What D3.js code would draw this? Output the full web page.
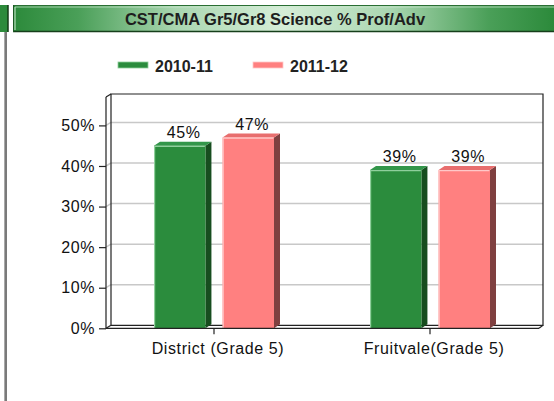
<!DOCTYPE html>
<meta charset="utf-8">
<style>
body { margin: 0; background: #fff; }
svg { display: block; }
.lbl { font: 16px "Liberation Sans", Arial, sans-serif; letter-spacing: 0.6px; fill: #111; }
.leg { font: bold 16px "Liberation Sans", Arial, sans-serif; fill: #222; }
.title { font: bold 16.5px "Liberation Sans", Arial, sans-serif; fill: #1e1e1e; }
.frame { fill: none; stroke: #222; stroke-width: 1.2px; }
.grid { fill: none; stroke: #c8c8c8; stroke-width: 1.5px; }
</style>
<body>
<div id="chart"></div>
<script src="https://cdn.jsdelivr.net/npm/d3@7"></script>
<script>
var categories = ["District (Grade 5)", "Fruitvale(Grade 5)"];
var seriesNames = ["2010-11", "2011-12"];
var values2010 = [45, 39];
var values2011 = [47, 39];
var yTicks = [0, 10, 20, 30, 40, 50];
var titleText = "CST/CMA Gr5/Gr8 Science % Prof/Adv";

var front = {"2010-11": "#2b8c3d", "2011-12": "#ff8080"},
    side = {"2010-11": "#174d1f", "2011-12": "#7f4040"},
    topc = {"2010-11": "#33964a", "2011-12": "#e86e6e"},
    shine = {"2010-11": "#8fcf9c", "2011-12": "#ffc8c8"};

var W = 554, H = 401;
var svg = d3.select("#chart").append("svg").attr("width", W).attr("height", H);

// header strip
var defs = svg.append("defs");
var grad = defs.append("linearGradient").attr("id", "tg");
[[0, "#2c8a3b"], [0.12, "#4a9f58"], [0.3, "#a9d6b0"], [0.5, "#d6eed8"], [0.7, "#a9d6b0"], [0.88, "#4a9f58"], [1, "#2c8a3b"]]
  .forEach(function(s) { grad.append("stop").attr("offset", s[0]).attr("stop-color", s[1]); });

svg.append("rect").attr("x", 0).attr("y", 5).attr("width", 8).attr("height", 27).attr("fill", "#2c8a3b");
svg.append("line").attr("x1", 8).attr("x2", 8).attr("y1", 5).attr("y2", 32).attr("stroke", "#103a15").attr("stroke-width", 1.5);
svg.append("rect").attr("x", 4).attr("y", 32).attr("width", 3).attr("height", H - 32).attr("fill", "#7a7a7a");
svg.append("line").attr("x1", 4.5).attr("x2", 4.5).attr("y1", 32).attr("y2", H).attr("stroke", "#a8a8a8");

svg.append("rect").attr("x", 13).attr("y", 5).attr("width", W - 13).attr("height", 27).attr("fill", "url(#tg)");
svg.append("line").attr("x1", 13).attr("x2", W).attr("y1", 5.5).attr("y2", 5.5).attr("stroke", "#2a6e33");
svg.append("line").attr("x1", 13).attr("x2", W).attr("y1", 31.5).attr("y2", 31.5).attr("stroke", "#163f1b").attr("stroke-width", 1.5);
svg.append("line").attr("x1", 13.5).attr("x2", 13.5).attr("y1", 5).attr("y2", 32).attr("stroke", "#1c5a24");
svg.append("line").attr("x1", 15).attr("x2", 15).attr("y1", 7).attr("y2", 30).attr("stroke", "#cfe9d2");
svg.append("line").attr("x1", 15).attr("x2", W).attr("y1", 7).attr("y2", 7).attr("stroke", "#cfe9d2").attr("stroke-opacity", 0.7);
svg.append("text").attr("class", "title").attr("x", 275).attr("y", 24.5)
  .attr("text-anchor", "middle").text(titleText);

// legend
var legX = [118, 253];
seriesNames.forEach(function(s, i) {
  svg.append("rect").attr("x", legX[i]).attr("y", 62).attr("width", 30).attr("height", 6)
    .attr("fill", front[s]).attr("stroke", shine[s]).attr("stroke-width", 0.8);
  svg.append("text").attr("class", "leg").attr("x", legX[i] + 37).attr("y", 71.5).text(s);
});

// scales
var y = d3.scaleLinear().domain([0, 57]).range([328.3, 97]);
var x0 = d3.scaleBand().domain(categories).range([106, 538]);
var x1 = d3.scaleBand().domain(seriesNames).range([48, 168]).paddingInner(0.25);
var wx = 5, wy = 3;      // wall depth
var bx = 6, by = 4;      // bar depth
var xL = 106, xR = 538;
var yTop = y.range()[1], yBase = y(0);

// back wall gridlines
var g = svg.append("g");
yTicks.filter(function(d) { return d > 0; }).forEach(function(t) {
  g.append("line").attr("class", "grid")
    .attr("x1", xL + wx).attr("x2", xR + wx).attr("y1", y(t) - wy).attr("y2", y(t) - wy);
  g.append("line").attr("class", "grid")
    .attr("x1", xL).attr("x2", xL + wx).attr("y1", y(t)).attr("y2", y(t) - wy);
});

// walls frame
g.append("path").attr("class", "frame")
  .attr("d", "M" + (xL + wx) + "," + (yBase - wy) + "V" + (yTop - wy) + "H" + (xR + wx) + "V" + (yBase - wy) + "H" + (xL + wx));
g.append("path").attr("class", "frame")
  .attr("d", "M" + xL + "," + yTop + "L" + (xL + wx) + "," + (yTop - wy));
g.append("path").attr("class", "frame")
  .attr("d", "M" + xL + "," + yBase + "L" + (xL + wx) + "," + (yBase - wy));
g.append("path").attr("class", "frame")
  .attr("d", "M" + (xR + 1) + "," + yBase + "L" + (xR + wx) + "," + (yBase - wy));

// bars
var rows = [];
categories.forEach(function(c, i) {
  rows.push({cat: c, s: seriesNames[0], v: values2010[i]});
  rows.push({cat: c, s: seriesNames[1], v: values2011[i]});
});
var bw = x1.bandwidth();
var bars = svg.append("g").selectAll("g").data(rows).enter().append("g");
bars.append("polygon").attr("fill", function(d) { return side[d.s]; })
  .attr("points", function(d) {
    var x = x0(d.cat) + x1(d.s) + bw, t = y(d.v), b = yBase;
    return [[x, t], [x + bx, t - by], [x + bx, b - by], [x, b]].join(" ");
  });
bars.append("polygon").attr("fill", function(d) { return topc[d.s]; })
  .attr("points", function(d) {
    var x = x0(d.cat) + x1(d.s), t = y(d.v);
    return [[x, t], [x + bx, t - by], [x + bw + bx, t - by], [x + bw, t]].join(" ");
  });
bars.append("rect").attr("fill", function(d) { return front[d.s]; })
  .attr("x", function(d) { return x0(d.cat) + x1(d.s); })
  .attr("y", function(d) { return y(d.v); })
  .attr("width", bw)
  .attr("height", function(d) { return yBase - y(d.v); });
bars.append("path").attr("fill", "none").attr("stroke", function(d) { return shine[d.s]; }).attr("stroke-width", 1.2)
  .attr("d", function(d) {
    var x = x0(d.cat) + x1(d.s) + 0.6, t = y(d.v) + 0.6;
    return "M" + x + "," + yBase + "V" + t + "H" + (x + bw - 1.2);
  });
bars.append("text").attr("class", "lbl").attr("text-anchor", "middle")
  .attr("x", function(d) { return x0(d.cat) + x1(d.s) + bw / 2 + bx / 2 + 1; })
  .attr("y", function(d) { return y(d.v) - 8; })
  .text(function(d) { return d.v + "%"; });

// front axes
svg.append("path").attr("class", "frame")
  .attr("d", "M" + xL + "," + yTop + "V" + yBase + "H" + (xR + 1));

var yAxis = d3.axisLeft(y).tickValues(yTicks).tickSize(7).tickPadding(4)
  .tickFormat(function(d) { return d + "%"; });
var ya = svg.append("g").attr("transform", "translate(" + xL + ",0)").call(yAxis);
ya.select(".domain").remove();
ya.selectAll("line").attr("stroke", "#222").attr("stroke-width", 1.2);
ya.selectAll("text").attr("class", "lbl").attr("font-size", null).attr("font-family", null).attr("fill", null);

var xAxis = d3.axisBottom(x0).tickSize(6).tickPadding(4);
var xa = svg.append("g").attr("transform", "translate(0," + yBase + ")").call(xAxis);
xa.select(".domain").remove();
xa.selectAll("line").attr("stroke", "#222").attr("stroke-width", 1.2);
xa.selectAll("text").attr("class", "lbl").attr("font-size", null).attr("font-family", null).attr("fill", null)
  .attr("dx", 4).attr("y", 14).attr("dy", "0.71em");
</script>
